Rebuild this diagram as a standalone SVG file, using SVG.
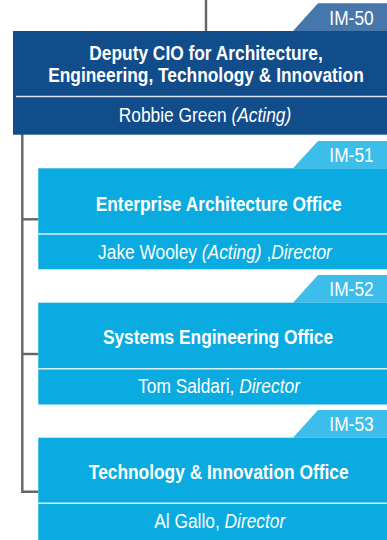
<svg xmlns="http://www.w3.org/2000/svg" width="387" height="540" viewBox="0 0 387 540">
<style>
.t{font-family:"Liberation Sans",Arial,sans-serif;fill:#fff;text-anchor:middle;font-size:19.5px}
.b{font-weight:bold}
.i{font-style:italic}
.conn{fill:none;stroke:#666;stroke-width:2.4}
.div{stroke:#fff;stroke-width:1.5;stroke-opacity:0.85}
.top{fill:#114c8b}
.toptab{fill:#4776aa}
.child{fill:#0aabe0}
.childtab{fill:#3dbde9}
</style>
<rect width="387" height="540" fill="#fff"/>
<g id="connectors">
<line class="conn" x1="206" y1="0" x2="206" y2="31"/>
<polyline class="conn" points="22.3,134 22.3,491.7 38.5,491.7"/>
<line class="conn" x1="22.3" y1="219.3" x2="38.5" y2="219.3"/>
<line class="conn" x1="22.3" y1="354" x2="38.5" y2="354"/>
</g>
<g id="im50">
<polygon class="toptab" points="293,31 318,3.3 387,3.3 387,31"/>
<text class="t" transform="translate(351.5,25) scale(0.89,1)">IM-50</text>
<rect class="top" x="13" y="31" width="374" height="103.7"/>
<text class="t b" transform="translate(206,60) scale(0.89,1)">Deputy CIO for Architecture,</text>
<text class="t b" transform="translate(206,82) scale(0.89,1)">Engineering, Technology &amp; Innovation</text>
<line class="div" x1="16" y1="96.5" x2="387" y2="96.5"/>
<text class="t" transform="translate(205,121.7) scale(0.89,1)">Robbie Green <tspan class="i">(Acting)</tspan></text>
</g>
<g id="im51">
<polygon class="childtab" points="293,168.3 318,141 387,141 387,168.3"/>
<text class="t" transform="translate(351.5,161.7) scale(0.89,1)">IM-51</text>
<rect class="child" x="38.3" y="168.3" width="348.7" height="101"/>
<text class="t b" transform="translate(218.7,211) scale(0.89,1)">Enterprise Architecture Office</text>
<line class="div" x1="38.3" y1="234" x2="387" y2="234"/>
<text class="t" transform="translate(215,259.3) scale(0.89,1)">Jake Wooley <tspan class="i">(Acting)</tspan> ,<tspan class="i">Director</tspan></text>
</g>
<g id="im52">
<polygon class="childtab" points="293,302.7 318,275 387,275 387,302.7"/>
<text class="t" transform="translate(351.5,296) scale(0.89,1)">IM-52</text>
<rect class="child" x="38.3" y="302.7" width="348.7" height="101.8"/>
<text class="t b" transform="translate(218,344) scale(0.89,1)">Systems Engineering Office</text>
<line class="div" x1="38.3" y1="368.7" x2="387" y2="368.7"/>
<text class="t" transform="translate(219,393.3) scale(0.89,1)">Tom Saldari, <tspan class="i">Director</tspan></text>
</g>
<g id="im53">
<polygon class="childtab" points="293,437.7 318,410 387,410 387,437.7"/>
<text class="t" transform="translate(351.5,430.7) scale(0.89,1)">IM-53</text>
<rect class="child" x="38.3" y="437.7" width="348.7" height="102.3"/>
<text class="t b" transform="translate(218.7,479) scale(0.89,1)">Technology &amp; Innovation Office</text>
<line class="div" x1="38.3" y1="503.3" x2="387" y2="503.3"/>
<text class="t" transform="translate(219.7,528.3) scale(0.89,1)">Al Gallo, <tspan class="i">Director</tspan></text>
</g>
</svg>
